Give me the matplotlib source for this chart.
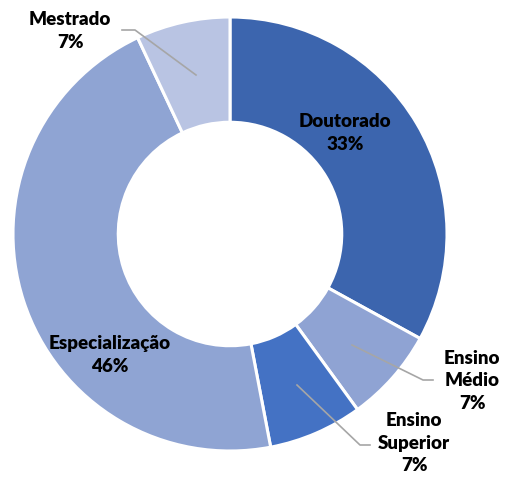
import matplotlib.pyplot as plt

categories = ["Doutorado", "Ensino\nMédio", "Ensino\nSuperior", "Especialização", "Mestrado"]
values = [33, 7, 7, 46, 7]
pct_labels = ["33%", "7%", "7%", "46%", "7%"]
colors = ["#3C65AE", "#8FA3D3", "#4472C4", "#8FA4D3", "#B9C4E3"]

W, H = 508, 484
cx, cy, R = 230, 234, 217


def to_data(px, py):
    return (px - cx) / R, (cy - py) / R


fig = plt.figure(figsize=(W / 100, H / 100), dpi=100)
ax = fig.add_axes([0, 0, 1, 1])
ax.pie(values, colors=colors, startangle=90, counterclock=False, radius=1,
       wedgeprops=dict(width=0.485, edgecolor="white", linewidth=2.2))
ax.set_xlim(-cx / R, (W - cx) / R)
ax.set_ylim(-(H - cy) / R, cy / R)
ax.set_aspect("equal")
ax.axis("off")

font = dict(family="Lato", fontweight="heavy", fontsize=13.5, color="black",
            ha="center", va="center", linespacing=1.38)

# label positions in pixels (text centre)
label_pos = [(345, 133), (472, 381), (414, 443), (110, 355), (70, 31)]
for cat, pct, (px, py) in zip(categories, pct_labels, label_pos):
    x, y = to_data(px, py)
    ax.text(x, y, cat + "\n" + pct, **font)

# leader lines
leaders = [
    [(196, 75), (135, 30), (122, 30)],
    [(352, 345), (423, 380), (433, 380)],
    [(297, 385), (360, 445), (370, 445)],
]
for pts in leaders:
    xs, ys = zip(*[to_data(px, py) for px, py in pts])
    ax.plot(xs, ys, color="#A6A6A6", linewidth=1.2)

fig.savefig("out.png", dpi=100)
